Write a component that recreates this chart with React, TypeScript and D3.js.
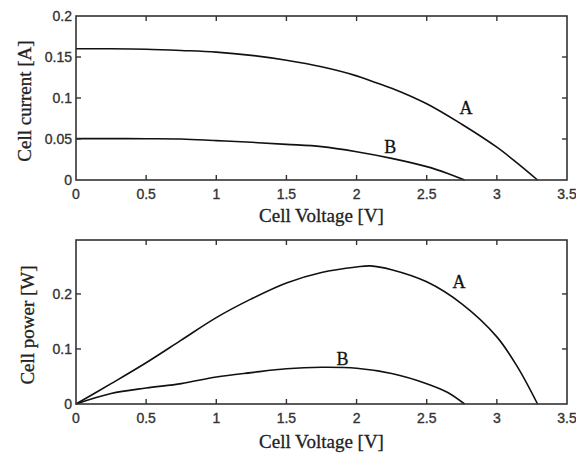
import React, { useRef, useEffect } from 'react';
import * as d3 from 'd3';

const voltA = [0, 0.25, 0.5, 0.75, 1.0, 1.25, 1.5, 1.75, 2.0, 2.1, 2.25, 2.5, 2.75, 3.0, 3.15, 3.29];
const currentA = [0.160, 0.160, 0.1595, 0.158, 0.156, 0.152, 0.146, 0.138, 0.127, 0.121, 0.112, 0.093, 0.068, 0.040, 0.020, 0];
const powerA = [0, 0.037, 0.075, 0.116, 0.157, 0.191, 0.220, 0.239, 0.249, 0.251, 0.244, 0.222, 0.182, 0.122, 0.066, 0];

const voltB = [0, 0.25, 0.5, 0.75, 1.0, 1.25, 1.5, 1.75, 2.0, 2.25, 2.5, 2.65, 2.77];
const currentB = [0.0505, 0.0505, 0.0503, 0.050, 0.048, 0.046, 0.0435, 0.0407, 0.0345, 0.0264, 0.0163, 0.008, 0];
const powerB = [0, 0.019, 0.029, 0.037, 0.049, 0.057, 0.064, 0.0667, 0.065, 0.0555, 0.037, 0.021, 0];

const xTicks = [0, 0.5, 1, 1.5, 2, 2.5, 3, 3.5];
const currentTicks = [0, 0.05, 0.1, 0.15, 0.2];
const powerTicks = [0, 0.1, 0.2];

const W = 576;
const H = 455;

const serif = "'Liberation Serif', 'Times New Roman', serif";
const sans = "'Liberation Sans', Arial, sans-serif";

const App = () => {
    const ref = useRef(null);

    useEffect(() => {
        const svg = d3.select(ref.current);
        svg.selectAll("*").remove();

        const left = 76, right = 567;
        const x = d3.scaleLinear().domain([0, 3.5]).range([left, right]);

        const panels = [
            {
                top: 16, bottom: 180, ymax: 0.2, ticks: currentTicks,
                label: "Cell current [A]", labelX: 24,
                series: [
                    { v: voltA, y: currentA, name: "A", lx: 2.78, ly: 0.088 },
                    { v: voltB, y: currentB, name: "B", lx: 2.24, ly: 0.040 },
                ],
                xlabelY: 222,
            },
            {
                top: 240, bottom: 404, ymax: 0.298, ticks: powerTicks,
                label: "Cell power [W]", labelX: 27,
                series: [
                    { v: voltA, y: powerA, name: "A", lx: 2.73, ly: 0.222 },
                    { v: voltB, y: powerB, name: "B", lx: 1.90, ly: 0.082 },
                ],
                xlabelY: 448,
            },
        ];

        panels.forEach(p => {
            const y = d3.scaleLinear().domain([0, p.ymax]).range([p.bottom, p.top]);
            const g = svg.append("g");

            // curves
            p.series.forEach(s => {
                const line = d3.line<number>()
                    .x((d, i) => x(s.v[i]))
                    .y(d => y(d))
                    .curve(d3.curveCatmullRom.alpha(0.5));
                g.append("path")
                    .datum(s.y)
                    .attr("fill", "none")
                    .attr("stroke", "#111")
                    .attr("stroke-width", 1.6)
                    .attr("d", line);
                g.append("text")
                    .attr("x", x(s.lx))
                    .attr("y", y(s.ly))
                    .attr("text-anchor", "middle")
                    .attr("dominant-baseline", "central")
                    .style("font-family", serif)
                    .style("font-size", "18px")
                    .style("fill", "#111")
                    .style("stroke", "#111")
                    .style("stroke-width", 0.3)
                    .text(s.name);
            });

            // box
            g.append("rect")
                .attr("x", left).attr("y", p.top)
                .attr("width", right - left).attr("height", p.bottom - p.top)
                .attr("fill", "none").attr("stroke", "#333").attr("stroke-width", 1.6);

            const tickLen = 5;
            // x ticks (bottom and top, inward)
            xTicks.forEach(t => {
                if (t > 0 && t < 3.5) {
                    g.append("line").attr("x1", x(t)).attr("x2", x(t))
                        .attr("y1", p.bottom).attr("y2", p.bottom - tickLen)
                        .attr("stroke", "#333").attr("stroke-width", 1.4);
                    g.append("line").attr("x1", x(t)).attr("x2", x(t))
                        .attr("y1", p.top).attr("y2", p.top + tickLen)
                        .attr("stroke", "#333").attr("stroke-width", 1.4);
                }
                g.append("text")
                    .attr("x", x(t)).attr("y", p.bottom + 14)
                    .attr("text-anchor", "middle")
                    .attr("dominant-baseline", "central")
                    .style("font-family", sans)
                    .style("font-size", "14px")
                    .style("fill", "#333")
                    .style("stroke", "#333")
                    .style("stroke-width", 0.35)
                    .text(String(t));
            });

            // y ticks (left and right, inward)
            p.ticks.forEach(t => {
                if (t > 0 && t < p.ymax) {
                    g.append("line").attr("x1", left).attr("x2", left + tickLen)
                        .attr("y1", y(t)).attr("y2", y(t))
                        .attr("stroke", "#333").attr("stroke-width", 1.4);
                    g.append("line").attr("x1", right).attr("x2", right - tickLen)
                        .attr("y1", y(t)).attr("y2", y(t))
                        .attr("stroke", "#333").attr("stroke-width", 1.4);
                }
                g.append("text")
                    .attr("x", left - 4).attr("y", y(t))
                    .attr("text-anchor", "end")
                    .attr("dominant-baseline", "central")
                    .style("font-family", sans)
                    .style("font-size", "14px")
                    .style("fill", "#333")
                    .style("stroke", "#333")
                    .style("stroke-width", 0.35)
                    .text(String(t));
            });

            // axis labels
            g.append("text")
                .attr("x", (left + right) / 2).attr("y", p.xlabelY)
                .attr("text-anchor", "middle")
                .style("font-family", serif)
                .style("font-size", "19px")
                .style("fill", "#222")
                .style("stroke", "#222")
                .style("stroke-width", 0.3)
                .text("Cell Voltage [V]");

            g.append("text")
                .attr("transform", `translate(${p.labelX},${(p.top + p.bottom) / 2 + 3}) rotate(-90)`)
                .attr("text-anchor", "middle")
                .attr("dominant-baseline", "central")
                .style("font-family", serif)
                .style("font-size", "19px")
                .style("fill", "#222")
                .style("stroke", "#222")
                .style("stroke-width", 0.3)
                .text(p.label);
        });
    }, []);

    return (
        <svg
            ref={ref}
            width={W}
            height={H}
            style={{ position: 'absolute', left: 0, top: 0, background: '#fff' }}
        />
    );
};

export default App;
